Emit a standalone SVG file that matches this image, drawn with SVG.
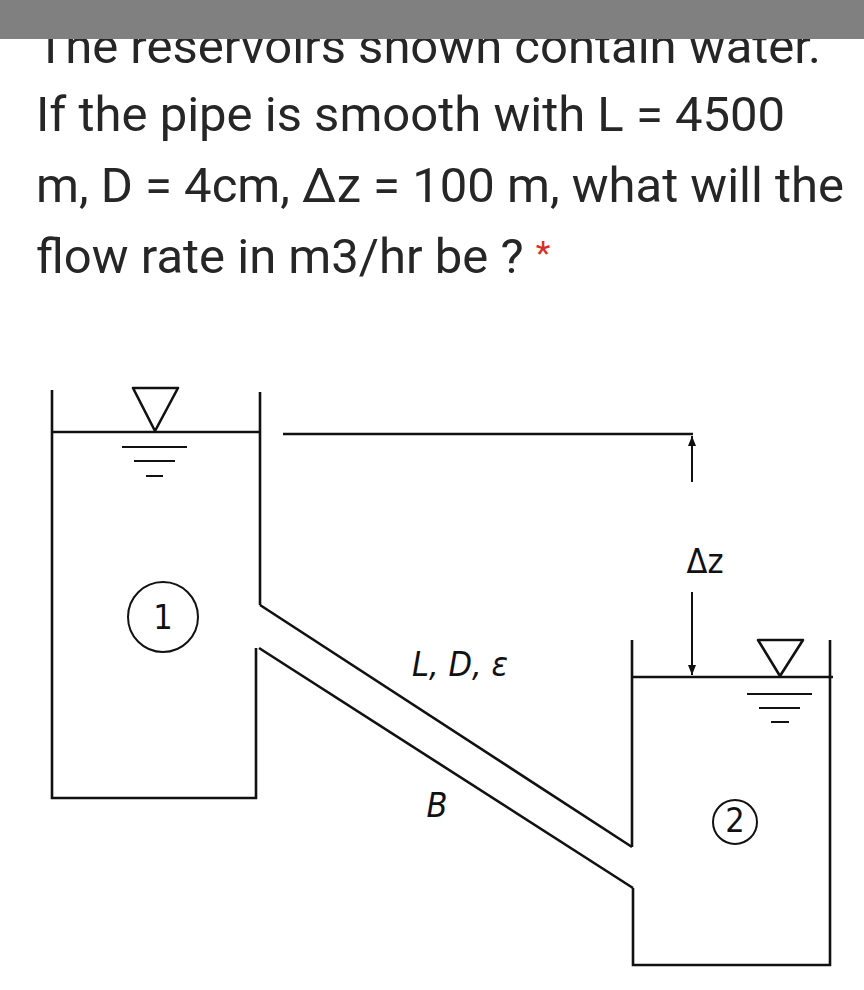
<svg xmlns="http://www.w3.org/2000/svg" width="864" height="990" viewBox="0 0 864 990">
<style>
.q{font-family:Roboto,"Liberation Sans",sans-serif;font-size:49px;fill:#262626}
.ln{fill:none;stroke:#111;stroke-width:2.6;stroke-linejoin:miter}
.tri{fill:none;stroke:#111;stroke-width:2.6;stroke-linejoin:round}
.thin{fill:none;stroke:#111;stroke-width:2}
.lb{font-family:"DejaVu Sans Condensed","Liberation Sans",sans-serif;font-size:34px;fill:#111}
</style>
<defs>
<marker id="ah" viewBox="0 0 10 10" refX="10" refY="5" markerWidth="10" markerHeight="10" markerUnits="userSpaceOnUse" orient="auto"><path d="M0,1 L10,5 L0,9 Z" fill="#111"/></marker>
</defs>
<rect width="864" height="990" fill="#fff"/>
<g id="question">
<text class="q" x="36" y="63">The reservoirs shown contain water.</text>
<rect x="0" y="0" width="864" height="39" fill="#808080"/>
<text class="q" x="36" y="131">If the pipe is smooth with L = 4500</text>
<text class="q" x="36" y="202">m, D = 4cm, Δz = 100 m, what will the</text>
<text class="q" x="36" y="273">flow rate in m3/hr be ? <tspan fill="#d93025" font-size="34" dy="-8">*</tspan></text>
</g>
<g id="reservoir1">
<path class="ln" d="M52,390 V798 H256 V648"/>
<path class="ln" d="M260,392 V605"/>
<path class="ln" d="M52,432 H260"/>
<path class="tri" d="M133,388 H178 L155,431 Z"/>
<path class="thin" d="M122,447 H187 M134,461 H175 M146,476 H163"/>
<circle class="thin" cx="163" cy="617" r="35"/>
<text class="lb" x="163" y="629" text-anchor="middle" font-size="32">1</text>
</g>
<g id="pipe">
<path class="ln" d="M260,605 L632,847"/>
<path class="ln" d="M259,648 L633,888"/>
<text class="lb" x="460" y="676" text-anchor="middle" font-style="italic">L, D, ε</text>
<text class="lb" x="437" y="817" text-anchor="middle" font-style="italic">B</text>
</g>
<g id="reservoir2">
<path class="ln" d="M632,640 V847"/>
<path class="ln" d="M633,888 V965 H830 V640"/>
<path class="ln" d="M632,677 H833"/>
<path class="tri" d="M758,640 H803 L780,676 Z"/>
<path class="thin" d="M747,694 H812 M759,708 H800 M771,722 H789"/>
<circle class="thin" cx="735" cy="822" r="22"/>
<text class="lb" x="735" y="832" text-anchor="middle" font-size="28">2</text>
</g>
<g id="connectors">
<path class="ln" d="M283,434 H693"/>
<path class="thin" d="M692,482 V436" marker-end="url(#ah)"/>
<path class="thin" d="M692,592 V675" marker-end="url(#ah)"/>
<text class="lb" x="705" y="573" text-anchor="middle" font-size="28">Δz</text>
</g>
</svg>
